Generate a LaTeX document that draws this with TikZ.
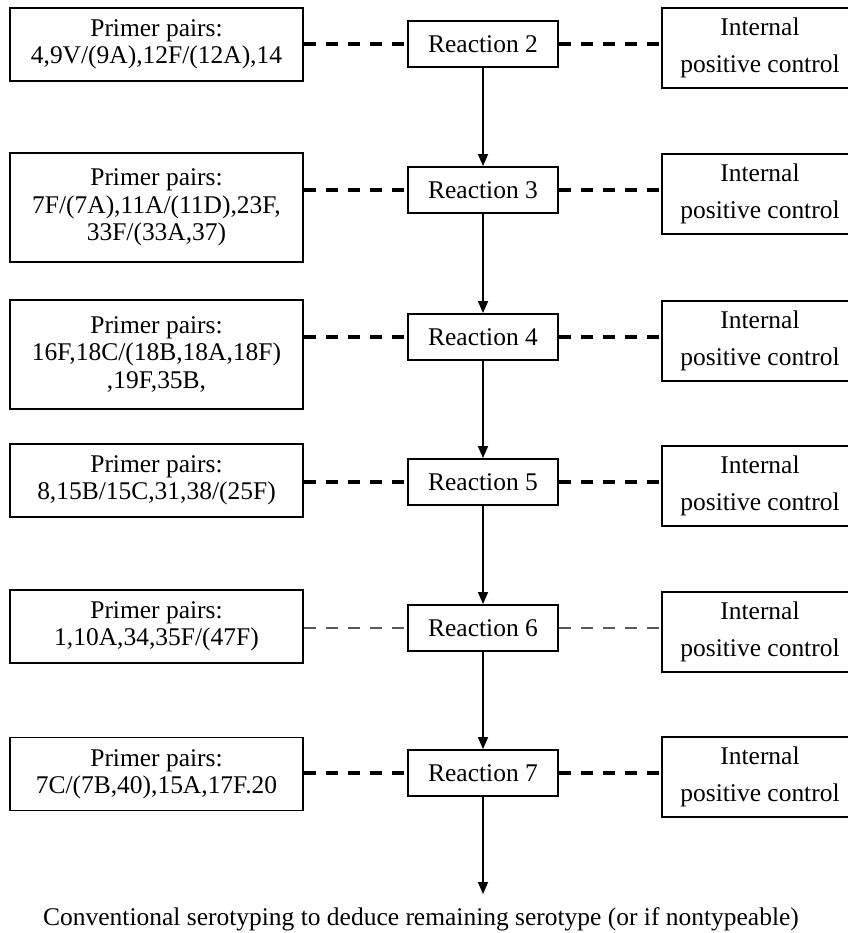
\documentclass[tikz,border=0pt]{standalone}
\usepackage{fontspec}
\setmainfont{Liberation Serif}
\usetikzlibrary{arrows.meta}
\tikzset{
  every picture/.style={line width=1.1pt},
  link/.style={line width=2.3pt, dash pattern=on 6.8pt off 5.7pt},
  faint/.style={link, line width=1.4pt, draw=black!65},
  flow/.style={-{Triangle[length=6.8pt, width=5.7pt]}, line width=0.85pt},
}

\begin{document}
\begin{tikzpicture}[x=0.02cm, y=-0.02cm, font=\fontsize{14.5}{15.6}\selectfont,
  pbox/.style={draw, minimum width=5.86cm, minimum height=1.46cm, align=center, inner sep=1pt},
  rbox/.style={draw, minimum width=3cm, minimum height=0.92cm, inner sep=1pt},
  cbox/.style={draw, minimum width=3.92cm, minimum height=1.6cm, align=center, inner sep=1pt, font=\fontsize{14.5}{21}\selectfont}]
  \useasboundingbox (0,0) rectangle (848,933);
  \clip (0,0) rectangle (848,933);
  % primer pair boxes
  \node[pbox] (p2) at (156.5, 44.5) {Primer pairs:\\4,9V/(9A),12F/(12A),14};
  \node[pbox, minimum height=2.18cm] (p3) at (156.5, 207.5) {Primer pairs:\\7F/(7A),11A/(11D),23F,\\33F/(33A,37)};
  \node[pbox, minimum height=2.18cm] (p4) at (156.5, 354.5) {Primer pairs:\\16F,18C/(18B,18A,18F)\\,19F,35B,};
  \node[pbox] (p5) at (156.5, 480.5) {Primer pairs:\\8,15B/15C,31,38/(25F)};
  \node[pbox] (p6) at (156.5, 626.5) {Primer pairs:\\1,10A,34,35F/(47F)};
  \node[pbox] (p7) at (156.5, 774) {Primer pairs:\\7C/(7B,40),15A,17F.20};
  % reactions and controls
  \foreach \i/\y in {2/44, 3/190, 4/337, 5/482, 6/628, 7/773} {
    \node[rbox] (r\i) at (483, \y) {Reaction \i};
    \node[cbox] (k\i) at (760, \y+4) {Internal\\positive control};
  }
  \foreach \i in {2,3,4,5,7} {
    \draw[link] (p\i.east |- r\i.west) -- (r\i.west);
    \draw[link] (r\i.east) -- (k\i.west |- r\i.east);
  }
  \draw[faint] (p6.east |- r6.west) -- (r6.west);
  \draw[faint] (r6.east) -- (k6.west |- r6.east);
  \foreach \a/\b in {2/3, 3/4, 4/5, 5/6, 6/7} \draw[flow] (r\a.south) -- (r\b.north);
  \node[anchor=base, inner sep=0pt] (conv) at (421, 925) {Conventional serotyping to deduce remaining serotype (or if nontypeable)};
  \draw[flow] (r7.south) -- (r7.south |- 0, 894);
\end{tikzpicture}
\end{document}
